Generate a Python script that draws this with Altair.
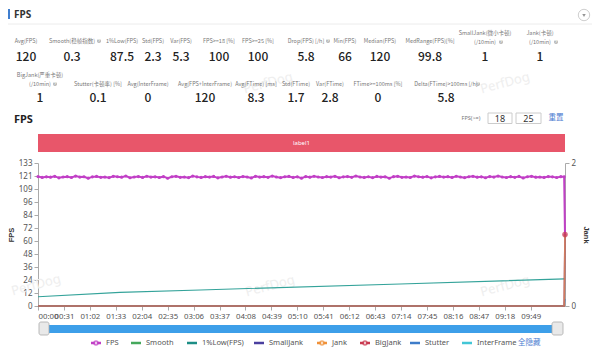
import altair as alt
import pandas as pd

# ---------------- data ----------------
SERIES = ["FPS", "Smooth", "1%Low(FPS)", "SmallJank", "Jank", "BigJank", "Stutter", "InterFrame"]
COLORS = ["#c13fc6", "#45a85c", "#1d8e86", "#4a3f9f", "#f0923a", "#c9394f", "#3d7cc9", "#42c6d6"]
LINE_COLORS = ["#c13fc6", "#45a85c", "#34a39a", "#4a3f9f", "#e8924a", "#c9394f", "#3d7cc9", "#42c6d6"]
MARKED = ["FPS", "Jank", "BigJank"]

FPS_VALUES = [
    120.4, 119.6, 120.1, 119.8, 120.6, 119.2, 120.0, 120.3, 119.5, 120.8,
    119.9, 120.2, 118.9, 120.1, 120.5, 119.7, 120.0, 119.4, 120.6, 120.2,
    119.8, 120.9, 119.3, 120.0, 120.4, 119.6, 120.7, 119.9, 120.1, 119.5,
    120.3, 118.8, 120.2, 120.6, 119.7, 120.0, 119.4, 120.8, 120.1, 119.6,
    120.3, 119.9, 120.5, 119.2, 120.0, 120.7, 119.8, 120.2, 119.5, 120.4,
    120.0, 119.1, 120.6, 119.9, 120.3, 119.7, 120.8, 120.0, 119.4, 120.2,
    120.5, 119.6, 120.1, 118.9, 120.4, 119.8, 120.7, 120.0, 119.5, 120.3,
    119.9, 120.6, 119.3, 120.1, 120.4, 119.7, 120.9, 120.0, 119.6, 120.2,
    119.4, 120.5, 119.9, 120.1, 118.8, 120.3, 120.6, 119.7, 120.0, 119.5,
    120.8, 120.2, 119.8, 120.4, 119.2, 120.1, 120.5, 119.9, 120.3, 119.6,
    120.7, 120.0, 119.4, 120.2, 120.6, 119.8, 120.1, 119.3, 120.4, 119.9,
    120.8, 120.0, 119.5, 120.3, 119.7, 120.5, 119.1, 120.2, 120.6, 119.8,
    120.0, 119.6, 120.4, 120.1, 119.5, 120.3,
]
FPS_STEP_S = 5
FPS_TAIL_T = [629, 630]
FPS_TAIL_V = [120.2, 66]

LOW_T = [0, 98, 194, 433, 630]
LOW_V = [8.6, 12.7, 14.9, 20.5, 25.2]

SMOOTH_T = [0, 630]
SMOOTH_V = [0.3, 0.3]
INTER_T = [0, 630]
INTER_V = [0, 0]

JANK_T = [0, 629, 630]
SMALLJANK_V = [0, 0, 1]
JANK_V = [0, 0, 1]
BIGJANK_V = [0, 0, 1]
STUTTER_V = [0, 0, 0.1]

X_TICKS = [0, 31, 62, 93, 124, 155, 186, 217, 248, 279, 310, 341, 372, 403,
           434, 465, 496, 527, 558, 589]
T_MAX = 630
FPS_MAX = 133
FPS_TICK_LABELS = ["0", "12", "24", "36", "48", "60", "72", "84", "96", "109", "121", "133"]
JANK_TICKS = [0, 1, 2]

LABEL_NAME = ["label1"]
LABEL_START = [0]
LABEL_END = [630]

STAT_LABEL_1 = [
    "Avg(FPS)", "Smooth(稳帧指数)", "1%Low(FPS)", "Std(FPS)", "Var(FPS)",
    "FPS>=18 [%]", "FPS>=25 [%]", "Drop(FPS) [/h]", "Min(FPS)", "Median(FPS)",
    "MedRange(FPS)[%]", "SmallJank(微小卡顿)", "Jank(卡顿)",
    "BigJank(严重卡顿)", "Stutter(卡顿率) [%]", "Avg(InterFrame)",
    "Avg(FPS+InterFrame)", "Avg(FTime) [ms]", "Std(FTime)", "Var(FTime)",
    "FTime>=100ms [%]", "Delta(FTime)>100ms [/h]",
]
STAT_LABEL_2 = ["", "", "", "", "", "", "", "", "", "", "", "(/10min)", "(/10min)",
                "(/10min)", "", "", "", "", "", "", "", ""]
STAT_VALUES = ["120", "0.3", "87.5", "2.3", "5.3", "100", "100", "5.8", "66", "120",
               "99.8", "1", "1",
               "1", "0.1", "0", "120", "8.3", "1.7", "2.8", "0", "5.8"]

FPS_THRESH = ["18", "25"]

# ---------------- layout (pixels) ----------------
STAT_X = [26, 72, 122, 153, 181, 219, 258, 306, 345, 380, 430, 485, 540,
          40, 98, 148, 205, 256, 296, 330, 378, 446]
STAT_ROW = [0] * 13 + [1] * 9
LABEL_Y_ONE = [41, 84]
LABEL_Y_TWO = [[33, 42], [75, 84]]
VALUE_Y = [57, 98]
HELP_X = [99, 328, 501, 556, 55, 478]
HELP_Y = [41, 41, 42, 42, 84, 84]
LEGEND_TEXT_X = [106, 146, 202, 269, 332, 375, 425, 477]
LEGEND_Y = 343
OX, OY = 38, 163
CJK = "Noto Sans CJK SC"

# ---------------- build tables ----------------
fps_t = [i * FPS_STEP_S for i in range(len(FPS_VALUES))] + FPS_TAIL_T
fps_v = FPS_VALUES + FPS_TAIL_V
fps_df = pd.DataFrame({"t": fps_t, "value": fps_v, "series": "FPS"})
low_df = pd.DataFrame({"t": LOW_T, "value": LOW_V, "series": "1%Low(FPS)"})
smooth_df = pd.DataFrame({"t": SMOOTH_T, "value": SMOOTH_V, "series": "Smooth"})
inter_df = pd.DataFrame({"t": INTER_T, "value": INTER_V, "series": "InterFrame"})
right_dfs = {
    "Stutter": pd.DataFrame({"t": JANK_T, "value": STUTTER_V, "series": "Stutter"}),
    "SmallJank": pd.DataFrame({"t": JANK_T, "value": SMALLJANK_V, "series": "SmallJank"}),
    "BigJank": pd.DataFrame({"t": JANK_T, "value": BIGJANK_V, "series": "BigJank"}),
    "Jank": pd.DataFrame({"t": JANK_T, "value": JANK_V, "series": "Jank"}),
}

stats_df = pd.DataFrame({
    "l1": STAT_LABEL_1,
    "l2": STAT_LABEL_2,
    "value": STAT_VALUES,
    "px": [x - OX for x in STAT_X],
    "y1": [(LABEL_Y_TWO[r][0] if l2 else LABEL_Y_ONE[r]) - OY for r, l2 in zip(STAT_ROW, STAT_LABEL_2)],
    "y2": [LABEL_Y_TWO[r][1] - OY for r in STAT_ROW],
    "vy": [VALUE_Y[r] - OY for r in STAT_ROW],
})
help_df = pd.DataFrame({"hx": [x - OX for x in HELP_X], "hy": [y - OY for y in HELP_Y], "q": ["?"] * len(HELP_X)})

leg_df = pd.DataFrame({
    "name": SERIES,
    "col": COLORS,
    "tx": [x - OX for x in LEGEND_TEXT_X],
    "sx0": [x - OX - 15 for x in LEGEND_TEXT_X],
    "sx1": [x - OX - 5 for x in LEGEND_TEXT_X],
    "sxc": [x - OX - 10 for x in LEGEND_TEXT_X],
})
leg_mark_df = leg_df[leg_df["name"].isin(MARKED)]

# ---------------- encodings ----------------
color_enc = alt.Color("series:N", scale=alt.Scale(domain=SERIES, range=LINE_COLORS), legend=None)

x_scale = alt.Scale(domain=[0, T_MAX], nice=False, zero=False)
x_label_expr = ("(floor(datum.value/60)<10?'0':'')+floor(datum.value/60)+':'+"
                "(datum.value%60<10?'0':'')+(datum.value%60)")
x_axis = alt.Axis(values=X_TICKS, labelExpr=x_label_expr, title=None, grid=False,
                  labelOverlap=False, tickSize=4, labelFontSize=7.8, labelColor="#555",
                  labelFont="Noto Sans", domainColor="#aaa", tickColor="#aaa", labelPadding=2,
                  labelFlush=True)
X = alt.X("t:Q", scale=x_scale, axis=x_axis)
X_NO = alt.X("t:Q", scale=x_scale, axis=None)

fps_tick_vals = [FPS_MAX * k / 11 for k in range(12)]
fps_lbl_expr = "[" + ",".join("'%s'" % s for s in FPS_TICK_LABELS) + "][round(datum.value*11/%d)]" % FPS_MAX
y_left_axis = alt.Axis(orient="left", values=fps_tick_vals, labelExpr=fps_lbl_expr, title="FPS",
                       titleFontSize=7.5, titleFontWeight="bold", titleColor="#333",
                       titleX=-27, titleBaseline="middle",
                       grid=False, tickSize=4, labelFontSize=8, labelColor="#555",
                       labelFont="Noto Sans", domainColor="#aaa", tickColor="#aaa")
YL = alt.Y("value:Q", scale=alt.Scale(domain=[0, FPS_MAX], nice=False, zero=True), axis=y_left_axis)
y_right_axis = alt.Axis(orient="right", values=JANK_TICKS, title="Jank", titleAngle=90,
                        titleFontSize=7.5, titleFontWeight="bold", titleColor="#333", titlePadding=6,
                        grid=False, tickSize=4, labelFontSize=8, labelColor="#555",
                        labelFont="Noto Sans", domainColor="#aaa", tickColor="#aaa", format="d")
YR = alt.Y("value:Q", scale=alt.Scale(domain=[0, 2], nice=False), axis=y_right_axis)

# ---------------- main plot layers ----------------
label_df = pd.DataFrame({"t": LABEL_START, "t2": LABEL_END, "name": LABEL_NAME})
label_bar = alt.Chart(label_df).mark_rect(color="#e8566a").encode(
    x=X, x2="t2:Q", y=alt.value(-29), y2=alt.value(-11))
label_txt = alt.Chart(label_df).transform_calculate(mid="(datum.t+datum.t2)/2").mark_text(
    color="white", fontSize=6, font="Noto Sans").encode(
    x=alt.X("mid:Q", scale=x_scale, axis=x_axis), y=alt.value(-20), text="name:N")

def left_line(df, width=1.5):
    return alt.Chart(df).mark_line(strokeWidth=width).encode(x=X, y=YL, color=color_enc)

fps_pts = alt.Chart(fps_df).mark_circle(size=10, opacity=1, color=COLORS[0]).encode(x=X, y=YL)
left_group = alt.layer(
    label_bar, label_txt,
    left_line(smooth_df), left_line(inter_df), left_line(low_df, 1.1),
    left_line(fps_df, 2.0), fps_pts,
)

right_layers = [
    alt.Chart(right_dfs[k]).mark_line(strokeWidth=1.6, opacity=0.6).encode(x=X_NO, y=YR, color=color_enc)
    for k in ["Stutter", "SmallJank", "BigJank", "Jank"]
]
bj_end = right_dfs["BigJank"].tail(1)
right_layers.append(alt.Chart(bj_end).mark_circle(size=32, color=COLORS[5], opacity=0.7).encode(x=X_NO, y=YR))
right_group = alt.layer(*right_layers)

# ---------------- header / decorations ----------------
def val_pos(x, y):
    return dict(x=alt.value(x - OX), y=alt.value(y - OY))

NOX = dict(scale=None, axis=None)
one = pd.DataFrame({"k": [0]})
wm_df = pd.DataFrame({"px": [230, 467, -2, 232, 467], "py": [-80, -80, 122, 123, 123], "w": ["PerfDog"] * 5})
watermark = alt.Chart(wm_df).mark_text(fontSize=13, color="#eeeeee", angle=345, font="Noto Sans").encode(
    x=alt.X("px:Q", **NOX), y=alt.Y("py:Q", **NOX), text="w:N")

accent = alt.Chart(one).mark_rect(color="#3f7ecf").encode(
    x=alt.value(8 - OX), x2=alt.value(10 - OX), y=alt.value(9 - OY), y2=alt.value(19 - OY))
title_txt = alt.Chart(one).mark_text(text="FPS", align="left", baseline="middle", fontSize=10,
                                     fontWeight="bold", color="#333", font="Noto Sans").encode(**val_pos(14, 14.5))
sep = alt.Chart(one).mark_rule(color="#ececec").encode(
    x=alt.value(8 - OX), x2=alt.value(592 - OX), y=alt.value(24 - OY))
dd_circle = alt.Chart(one).mark_point(shape="circle", size=130, filled=True, fill="white",
                                      stroke="#bbb", strokeWidth=1).encode(**val_pos(584, 15))
dd_tri = alt.Chart(one).mark_point(shape="triangle-down", size=12, filled=True, color="#666").encode(**val_pos(584, 15.5))

stat_l1 = alt.Chart(stats_df).mark_text(baseline="middle", fontSize=5.5, color="#777", font=CJK).encode(
    x=alt.X("px:Q", **NOX), y=alt.Y("y1:Q", **NOX), text="l1:N")
stat_l2 = alt.Chart(stats_df).mark_text(baseline="middle", fontSize=5.5, color="#777", font=CJK).encode(
    x=alt.X("px:Q", **NOX), y=alt.Y("y2:Q", **NOX), text="l2:N")
help_dot = alt.Chart(help_df).mark_point(shape="circle", filled=True, color="#b5b5b5", size=16, opacity=1).encode(
    x=alt.X("hx:Q", **NOX), y=alt.Y("hy:Q", **NOX))
help_q = alt.Chart(help_df).mark_text(fontSize=4, color="white", fontWeight="bold", baseline="middle").encode(
    x=alt.X("hx:Q", **NOX), y=alt.Y("hy:Q", **NOX), text="q:N")
stat_values = alt.Chart(stats_df).mark_text(baseline="middle", fontSize=12, fontWeight=500,
                                            color="#222", font=CJK).encode(
    x=alt.X("px:Q", **NOX), y=alt.Y("vy:Q", **NOX), text="value:N")

sec_title = alt.Chart(one).mark_text(text="FPS", align="left", baseline="middle", fontSize=11,
                                     fontWeight="bold", color="#222", font="Noto Sans").encode(**val_pos(14, 120))
thr_label = alt.Chart(one).mark_text(text="FPS(>=)", fontSize=5.5, color="#777", font="Noto Sans").encode(**val_pos(471, 118))
thr_df = pd.DataFrame({"v": FPS_THRESH, "x0": [488 - OX, 516 - OX], "x1": [512 - OX, 541 - OX]})
thr_boxes = alt.Chart(thr_df).mark_rect(fill="white", stroke="#ccc", strokeWidth=1).encode(
    x=alt.X("x0:Q", **NOX), x2="x1:Q", y=alt.value(113 - OY), y2=alt.value(123.5 - OY))
thr_text = alt.Chart(thr_df).transform_calculate(xc="(datum.x0+datum.x1)/2").mark_text(
    fontSize=9, color="#333", font="Noto Sans", baseline="middle").encode(
    x=alt.X("xc:Q", **NOX), y=alt.value(118.5 - OY), text="v:N")
reset_txt = alt.Chart(one).mark_text(text="重置", fontSize=7.5, color="#4a7bd0", font=CJK,
                                     baseline="middle").encode(**val_pos(556, 118))

slider_bar = alt.Chart(one).mark_rect(color="#3d9fe9").encode(
    x=alt.value(44 - OX), x2=alt.value(558 - OX), y=alt.value(325 - OY), y2=alt.value(333 - OY))
handles_df = pd.DataFrame({"x0": [39 - OX, 552 - OX], "x1": [49 - OX, 563 - OX]})
handles = alt.Chart(handles_df).mark_rect(fill="#e9e9e9", stroke="#aaa", strokeWidth=0.8,
                                          cornerRadius=2).encode(
    x=alt.X("x0:Q", **NOX), x2="x1:Q", y=alt.value(322 - OY), y2=alt.value(335 - OY))

# custom legend
leg_lines = alt.Chart(leg_df).mark_rule(strokeWidth=2.5).encode(
    x=alt.X("sx0:Q", **NOX), x2="sx1:Q", y=alt.value(LEGEND_Y - OY),
    color=alt.Color("col:N", scale=None, legend=None))
leg_dots = alt.Chart(leg_mark_df).mark_point(shape="circle", filled=True, fill="white", size=16,
                                             strokeWidth=1.5).encode(
    x=alt.X("sxc:Q", **NOX), y=alt.value(LEGEND_Y - OY),
    stroke=alt.Color("col:N", scale=None, legend=None))
leg_text = alt.Chart(leg_df).mark_text(align="left", baseline="middle", fontSize=7.5, color="#555",
                                       font="Noto Sans").encode(
    x=alt.X("tx:Q", **NOX), y=alt.value(LEGEND_Y - OY), text="name:N")
hide_all = alt.Chart(one).mark_text(text="全隐藏", align="left", baseline="middle", fontSize=7.5,
                                    color="#4a7bd0", font=CJK).encode(**val_pos(518, LEGEND_Y))

chart = alt.layer(
    watermark, accent, title_txt, sep, dd_circle, dd_tri,
    stat_l1, stat_l2, help_dot, help_q, stat_values, sec_title, thr_label, thr_boxes, thr_text, reset_txt,
    left_group, right_group, slider_bar, handles, leg_lines, leg_dots, leg_text, hide_all,
).resolve_scale(x="independent", y="independent").properties(
    width=527, height=143,
    padding={"left": 30, "top": 155, "right": 27, "bottom": 43},
    autosize=alt.AutoSizeParams(type="none"),
    background="white",
).configure_view(stroke=None)

chart.save("out.html", embed_options={"renderer": "svg", "actions": False})
